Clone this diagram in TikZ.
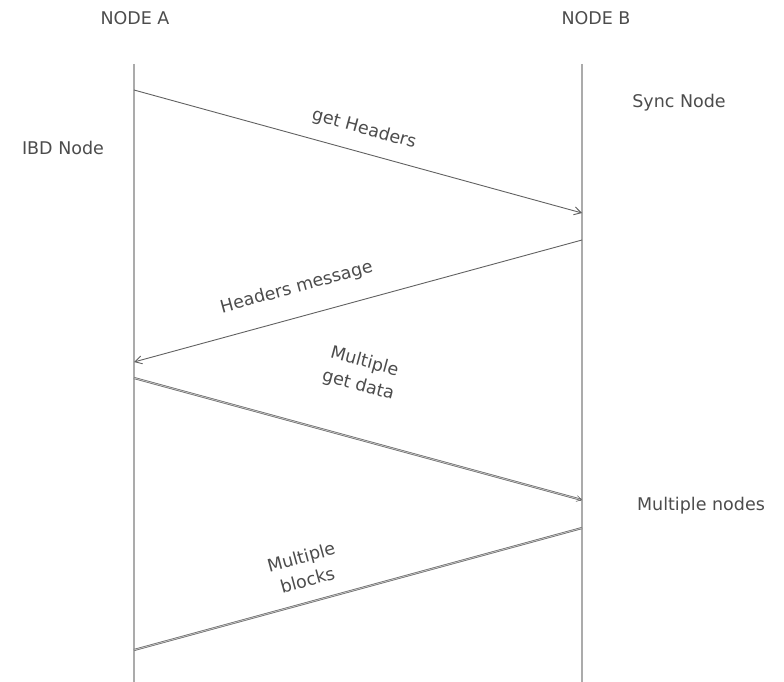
\documentclass[tikz,border=0pt]{standalone}
\usepackage{fontspec}
\setmainfont{DejaVu Sans}
\usepackage{tikz}
\usetikzlibrary{math,arrows.meta}

\begin{document}
\begin{tikzpicture}[x=1pt, y=-1pt,
  lifeline/.style={line width=2.6pt, draw=black!33},
  msg/.style={line width=0.9pt, draw=black!62, -{Straight Barb[length=7pt,width=8pt]}},
  bulkmsg/.style={line width=0.6pt, draw=black!62, double=black!25, double distance=0.9pt},
  lbl/.style={font=\fontsize{17.5}{24}\selectfont, text=black!70, inner sep=0pt, align=center}]
  \tikzmath{%
    \ax = 134; \bx = 582; \ytop = 64; \ybot = 682;
  }
  \useasboundingbox (0,0) rectangle (784,682);

  \coordinate (atop) at (\ax,\ytop);  \coordinate (abot) at (\ax,\ybot);
  \coordinate (btop) at (\bx,\ytop);  \coordinate (bbot) at (\bx,\ybot);
  \coordinate (a1) at (\ax,90);   \coordinate (b1) at (\bx,213);
  \coordinate (b2) at (\bx,240);  \coordinate (a2) at (\ax,362);
  \coordinate (a3) at (\ax,378);  \coordinate (b3) at (\bx,500);
  \coordinate (b4) at (\bx,528);  \coordinate (a4) at (\ax,650);

  \draw[lifeline] (atop) -- (abot);
  \draw[lifeline] (btop) -- (bbot);

  \node[lbl] (nodea) at (135,18) {NODE A};
  \node[lbl] (nodeb) at (596,18) {NODE B};
  \node[lbl] (ibd) at (63,148) {IBD Node};
  \node[lbl] (sync) at (679,103) {Sync Node};
  \node[lbl] (multi) at (701,506) {Multiple nodes};

  \draw[msg] (a1) -- node[lbl, pos=0.5, sloped, above=14pt] (getheaders) {get Headers} (b1);
  \draw[msg] (b2) -- node[lbl, pos=0.62, sloped, above=20pt] (headersmsg) {Headers message} (a2);
  \draw[bulkmsg, -{Straight Barb[length=5pt,width=6pt]}] (a3) -- node[lbl, pos=0.47, sloped, above=43pt] (getdata) {Multiple\\get data} (b3);
  \draw[bulkmsg] (b4) -- node[lbl, pos=0.6, sloped, above=15pt] (blocks) {Multiple\\blocks} (a4);
\end{tikzpicture}
\end{document}
